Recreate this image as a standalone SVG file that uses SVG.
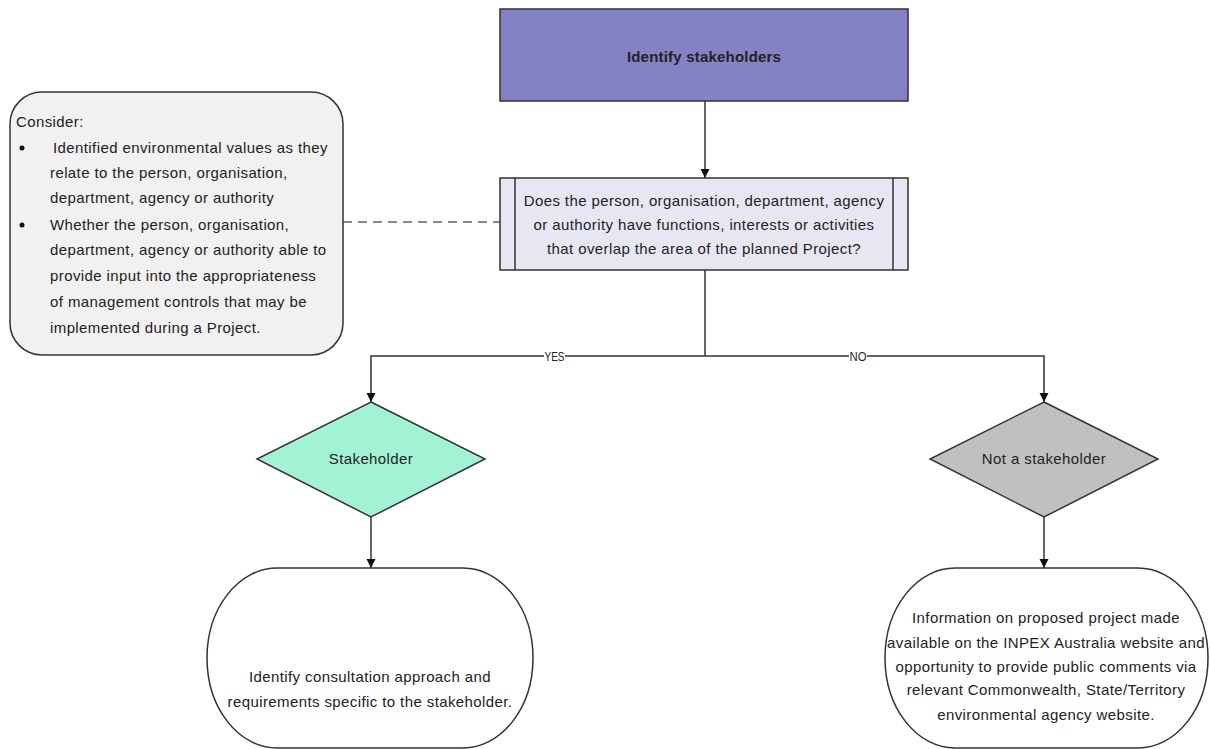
<svg xmlns="http://www.w3.org/2000/svg" width="1210" height="749" viewBox="0 0 1210 749">
<defs>
<marker id="arr" viewBox="0 0 10 10" refX="10" refY="5" markerWidth="9" markerHeight="10" markerUnits="userSpaceOnUse" orient="auto">
<path d="M0,0 L10,5 L0,10 z" fill="#111"/>
</marker>
<style>
text{font-family:"Liberation Sans",Arial,sans-serif;fill:#222;}
.t{font-size:15px;letter-spacing:0.4px;}
.c{text-anchor:middle;}
.lbl{font-size:12.5px;}
.shape{stroke:#333;stroke-width:1.5;}
.line{stroke:#333;stroke-width:1.5;fill:none;}
</style>
</defs>
<rect width="1210" height="749" fill="#fff"/>
<g id="connectors">
<line class="line" x1="705" y1="101" x2="705" y2="178" marker-end="url(#arr)"/>
<line x1="343" y1="222" x2="500" y2="222" stroke="#888" stroke-width="2" stroke-dasharray="9,6"/>
<polyline class="line" points="705,270 705,356"/>
<polyline class="line" points="705,356 371,356 371,402" marker-end="url(#arr)"/>
<polyline class="line" points="705,356 1044,356 1044,402" marker-end="url(#arr)"/>
<line class="line" x1="371" y1="517" x2="371" y2="568" marker-end="url(#arr)"/>
<line class="line" x1="1044" y1="517" x2="1044" y2="568" marker-end="url(#arr)"/>
<rect x="544" y="349" width="21" height="14" fill="#fff"/>
<text class="lbl" x="544.5" y="361" textLength="20" lengthAdjust="spacingAndGlyphs">YES</text>
<rect x="849" y="349" width="18" height="14" fill="#fff"/>
<text class="lbl" x="849.5" y="361" textLength="17" lengthAdjust="spacingAndGlyphs">NO</text>
</g>
<g id="identify">
<rect class="shape" x="500" y="9" width="408" height="92" fill="#8482C4"/>
<text class="c" x="704" y="62" style="font-size:15px;font-weight:bold;letter-spacing:0.2px">Identify stakeholders</text>
</g>
<g id="question">
<rect class="shape" x="500" y="178" width="408" height="92" fill="#E7E7F4"/>
<line class="line" x1="515" y1="178" x2="515" y2="270"/>
<line class="line" x1="893" y1="178" x2="893" y2="270"/>
<text class="t c" x="704" y="206">Does the person, organisation, department, agency</text>
<text class="t c" x="704" y="230">or authority have functions, interests or activities</text>
<text class="t c" x="704" y="254">that overlap the area of the planned Project?</text>
</g>
<g id="consider">
<rect class="shape" x="10" y="92" width="333" height="263" rx="32" ry="32" fill="#F1F1F1"/>
<text class="t" x="16" y="127">Consider:</text>
<circle cx="22" cy="148" r="2.5" fill="#111"/>
<text class="t" x="53" y="153">Identified environmental values as they</text>
<text class="t" x="50" y="178">relate to the person, organisation,</text>
<text class="t" x="50" y="203">department, agency or authority</text>
<circle cx="22" cy="225" r="2.5" fill="#111"/>
<text class="t" x="50" y="230">Whether the person, organisation,</text>
<text class="t" x="50" y="255">department, agency or authority able to</text>
<text class="t" x="50" y="281">provide input into the appropriateness</text>
<text class="t" x="50" y="307">of management controls that may be</text>
<text class="t" x="50" y="333">implemented during a Project.</text>
</g>
<g id="stakeholder">
<polygon class="shape" points="371,402 485,459 371,517 257,459" fill="#A2F2D4"/>
<text class="t c" x="371" y="464">Stakeholder</text>
</g>
<g id="not-stakeholder">
<polygon class="shape" points="1044,402 1158,459 1044,517 930,459" fill="#C0C0C0"/>
<text class="t c" x="1044" y="464">Not a stakeholder</text>
</g>
<g id="consultation">
<path class="shape" d="M277,568 L463,568 A70,90 0 0 1 533,658 A70,90 0 0 1 463,748 L277,748 A70,90 0 0 1 207,658 A70,90 0 0 1 277,568 Z" fill="#fff"/>
<text class="t c" x="370" y="682">Identify consultation approach and</text>
<text class="t c" x="370" y="707">requirements specific to the stakeholder.</text>
</g>
<g id="information">
<path class="shape" d="M955,568 L1138,568 A70,90 0 0 1 1208,658 A70,90 0 0 1 1138,748 L955,748 A70,90 0 0 1 885,658 A70,90 0 0 1 955,568 Z" fill="#fff"/>
<text class="t c" x="1046" y="623">Information on proposed project made</text>
<text class="t c" x="1046" y="648">available on the INPEX Australia website and</text>
<text class="t c" x="1046" y="672">opportunity to provide public comments via</text>
<text class="t c" x="1046" y="695">relevant Commonwealth, State/Territory</text>
<text class="t c" x="1046" y="720">environmental agency website.</text>
</g>
</svg>
